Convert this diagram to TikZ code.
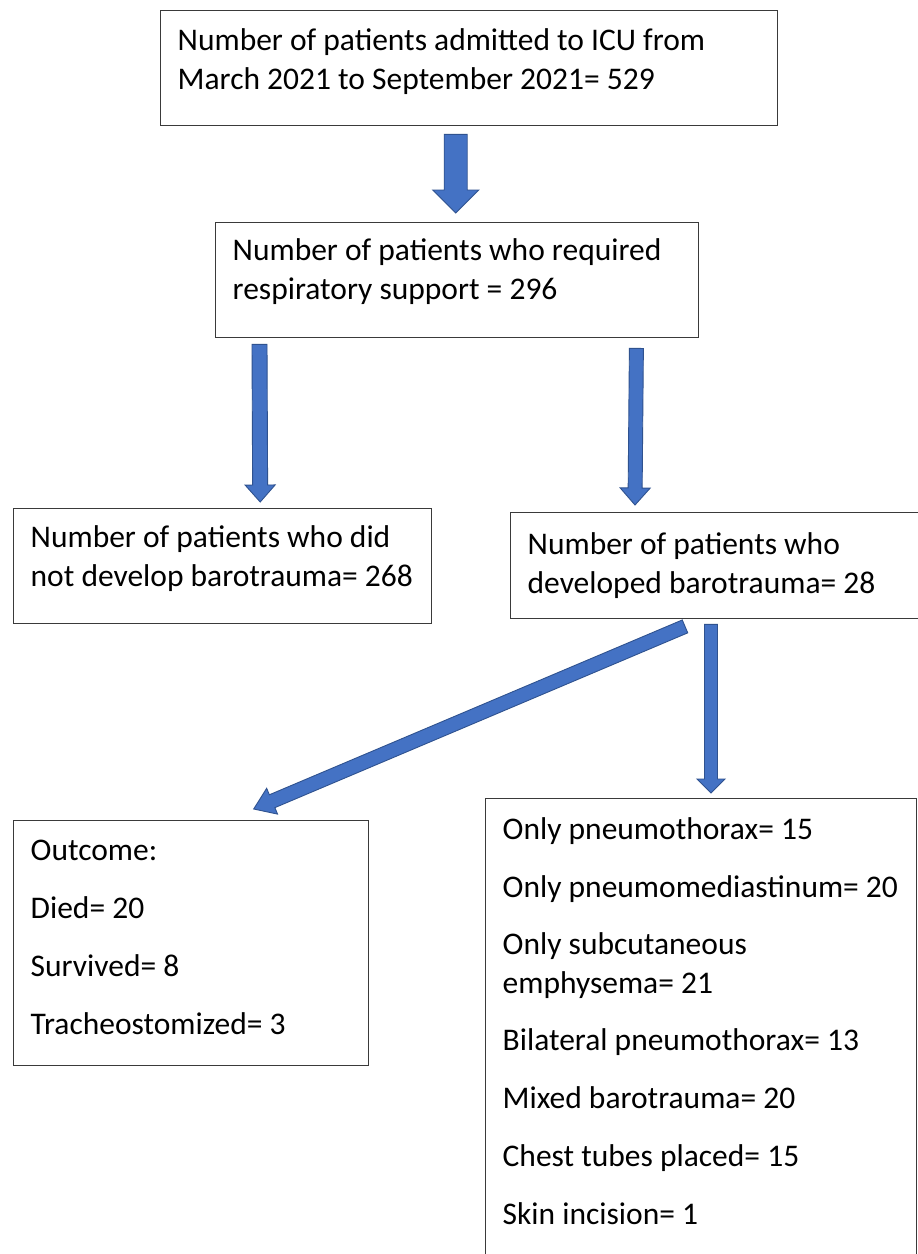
\documentclass[tikz,border=0pt]{standalone}
\usepackage{fontspec}
\setmainfont{Carlito}
\usetikzlibrary{calc}
\definecolor{arrowfill}{HTML}{4472C4}
\definecolor{arrowline}{HTML}{2F528F}
\definecolor{boxline}{HTML}{3A3A3A}
% #1 width, #2 height, #3 first baseline offset, #4 text
\newcommand\cellbox[4]{\parbox[c][#2][t]{#1}{\raggedright\leftskip=17pt\relax
  \fontsize{31.5}{38.5}\selectfont\vspace*{\dimexpr#3-30pt\relax}\rule{0pt}{30pt}#4\par}}
% #1 start, #2 end, #3 shaft half width, #4 head half width, #5 head length
\newcommand\blockarrow[5]{%
  \path coordinate (ba-n) at ($(#2)!#5!(#1)$);
  \filldraw[blockarrowstyle]
    ($(#1)!#3!90:(#2)$) -- ($(ba-n)!#3!90:(#2)$) -- ($(ba-n)!#4!90:(#2)$) --
    (#2) -- ($(ba-n)!#4!-90:(#2)$) -- ($(ba-n)!#3!-90:(#2)$) --
    ($(#1)!#3!-90:(#2)$) -- cycle;}
\tikzset{
  box/.style={draw=boxline, line width=1.4pt, inner sep=0pt, anchor=north west},
  blockarrowstyle/.style={fill=arrowfill, draw=arrowline, line width=0.9pt, line join=miter}
}
\begin{document}
\begin{tikzpicture}[x=1pt,y=-1pt]
\useasboundingbox (0,0) rectangle (918,1254);
\clip (0,0) rectangle (918,1254);
\fill[white] (0,0) rectangle (918,1254);

\node[box] (n1) at (160,10) {\cellbox{617pt}{115pt}{40pt}{Number of patients admitted to ICU from\\March 2021 to September 2021= 529}};
\node[box] (n2) at (215,222) {\cellbox{483pt}{115pt}{38pt}{Number of patients who required\\respiratory support = 296}};
\node[box] (n3) at (13,508) {\cellbox{418pt}{115pt}{39pt}{Number of patients who did\\not develop barotrauma= 268}};
\node[box] (n4) at (510,512) {\cellbox{420pt}{106pt}{42pt}{Number of patients who\\developed barotrauma= 28}};
\node[box] (n5) at (13,820) {\cellbox{355pt}{245pt}{40pt}{Outcome:\\[19.5pt]Died= 20\\[19.5pt]Survived= 8\\[19.5pt]Tracheostomized= 3}};
\node[box] (n6) at (485,798) {\cellbox{431pt}{470pt}{41pt}{Only pneumothorax= 15\\[19pt]Only pneumomediastinum= 20\\[19pt]Only subcutaneous\\emphysema= 21\\[19pt]Bilateral pneumothorax= 13\\[19pt]Mixed barotrauma= 20\\[19.5pt]Chest tubes placed= 15\\[19.5pt]Skin incision= 1}};

\coordinate (a1s) at ($(n1.south)+(-13.5,8)$);
\coordinate (a1e) at ($(n2.north)+(-1.5,-9)$);
\coordinate (a2s) at ($(n2.south west)+(44.5,6)$);
\coordinate (a2e) at ($(n3.north)+(37.5,-6)$);
\coordinate (a3s) at ($(n2.south east)+(-63,10)$);
\coordinate (a3e) at ($(n4.north west)+(125,-7)$);
\coordinate (a4s) at ($(n4.south west)+(175,7)$);
\coordinate (a4e) at ($(n5.north)+(62.5,-11)$);
\coordinate (a5s) at ($(n4.south west)+(201,5)$);
\coordinate (a5e) at ($(n6.north west)+(226,-5)$);

\blockarrow{a1s}{a1e}{11.5pt}{23pt}{23pt}
\blockarrow{a2s}{a2e}{7.5pt}{15pt}{17pt}
\blockarrow{a3s}{a3e}{7pt}{15pt}{17pt}
\blockarrow{a4s}{a4e}{7pt}{14pt}{20pt}
\blockarrow{a5s}{a5e}{6.5pt}{14pt}{14pt}
\end{tikzpicture}
\end{document}
